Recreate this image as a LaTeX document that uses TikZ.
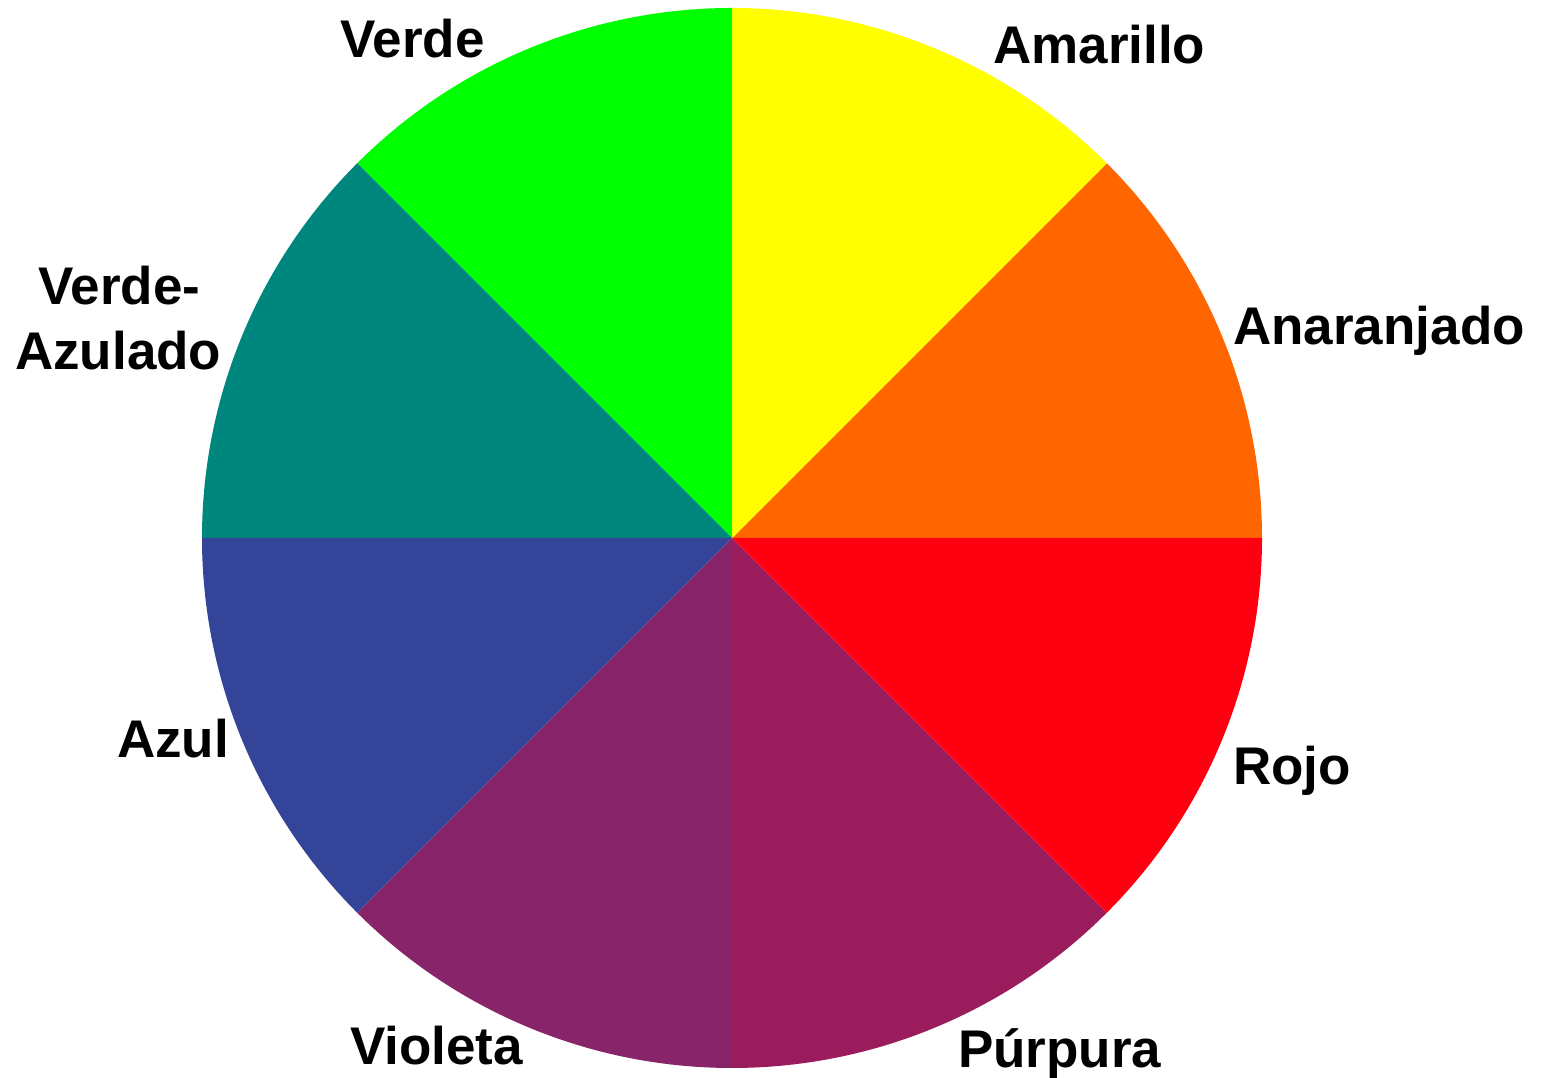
\documentclass[tikz,border=0pt]{standalone}
\usepackage{fontspec}
\setmainfont{Liberation Sans}
\definecolor{cOrange}{RGB}{255,102,0}
\definecolor{cYellow}{RGB}{255,255,0}
\definecolor{cGreen}{RGB}{0,255,0}
\definecolor{cTeal}{RGB}{0,135,125}
\definecolor{cBlue}{RGB}{51,68,153}
\definecolor{cViolet}{RGB}{136,36,106}
\definecolor{cPurple}{RGB}{154,28,92}
\definecolor{cRed}{RGB}{255,0,17}
\begin{document}
\begin{tikzpicture}[x=1pt,y=1pt,
  lbl/.style={anchor=base west,inner sep=0pt,font=\fontsize{53}{64}\selectfont\bfseries,text=black}]
\useasboundingbox (0,0) rectangle (1544,1078);
\fill[white] (0,0) rectangle (1544,1078);
\coordinate (c) at (732,540);
\def\R{530}
\foreach \a/\col in {0/cOrange,45/cYellow,90/cGreen,135/cTeal,180/cBlue,225/cViolet,270/cPurple,315/cRed}{
  \fill[\col] (c) -- ++(\a:\R) arc[start angle=\a,end angle=\a+45,radius=\R] -- cycle;
}
\node[lbl] (verde) at (340,1020) {Verde};
\node[lbl] (amarillo) at (993,1014) {Amarillo};
\node[lbl] (verdeaz1) at (38,773) {Verde-};
\node[lbl] (verdeaz2) at (15,708) {Azulado};
\node[lbl] (anaranjado) at (1233,733) {Anaranjado};
\node[lbl] (azul) at (117,320) {Azul};
\node[lbl] (rojo) at (1233,293) {Rojo};
\node[lbl] (violeta) at (350,13) {Violeta};
\node[lbl] (purpura) at (958,10) {Púrpura};
\end{tikzpicture}
\end{document}
